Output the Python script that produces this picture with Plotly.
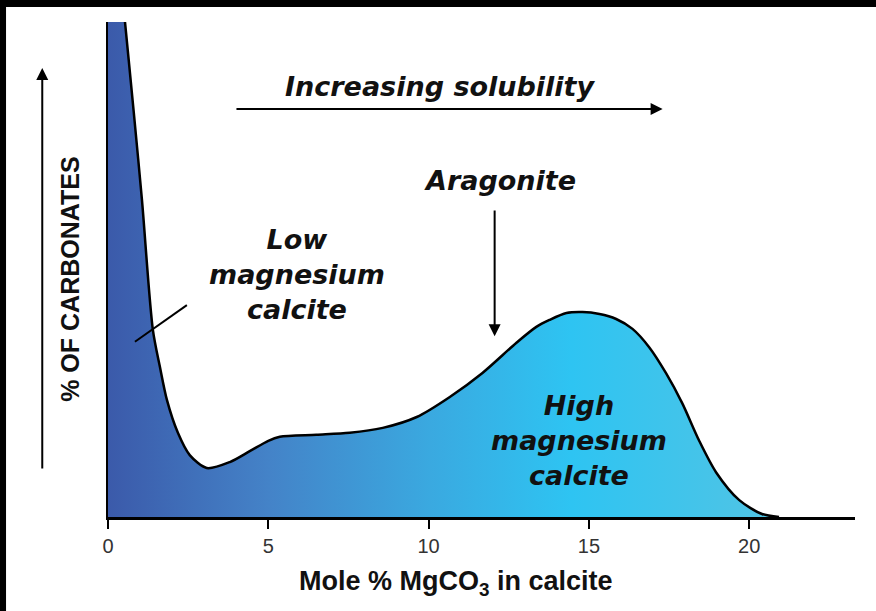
import plotly.graph_objects as go

# Curve (x: mole % MgCO3, y: relative % of carbonates, arbitrary 0-100 scale)
mg_mole_pct = [0.0, 0.53, 0.8, 1.06, 1.40, 1.62, 1.84, 2.18, 2.55, 3.08, 3.80, 4.42, 5.0, 5.36,
               6.5, 7.54, 8.57, 9.63, 10.65, 11.68, 12.74, 13.36, 13.77, 14.30, 14.8, 15.33,
               15.85, 16.36, 16.88, 17.41, 17.91, 18.44, 18.97, 19.69, 20.40, 20.93]
carbonate_pct = [135, 100, 82, 64, 37.8, 30.3, 23.6, 17.0, 12.5, 9.9, 11.1, 13.3, 15.4, 16.2,
                 16.6, 17.0, 18.0, 20.2, 24.2, 29.1, 35.2, 38.4, 39.8, 41.2, 41.4, 41.0,
                 40.0, 38.0, 34.3, 29.0, 23.0, 15.4, 9.0, 3.4, 0.6, 0.0]

x_ticks = [0, 5, 10, 15, 20]
x_tick_labels = ["0", "5", "10", "15", "20"]

x_title = "<b>Mole % MgCO<sub>3</sub> in calcite</b>"
y_title = "<b>% OF CARBONATES</b>"
low_label = "<b><i>Low<br>magnesium<br>calcite</i></b>"
high_label = "<b><i>High<br>magnesium<br>calcite</i></b>"
arag_label = "<b><i>Aragonite</i></b>"
sol_label = "<b><i>Increasing solubility</i></b>"

fig = go.Figure()
fig.add_trace(go.Scatter(
    x=mg_mole_pct, y=carbonate_pct, mode="lines",
    line=dict(color="black", width=2.5, shape="spline", smoothing=0.8),
    fill="tozeroy",
    fillgradient=dict(type="horizontal",
                      colorscale=[[0, "#3b5aaa"], [0.24, "#4483c8"], [0.48, "#3aa9e0"],
                                  [0.69, "#2ec4f2"], [1, "#52c4e4"]]),
    hoverinfo="skip", showlegend=False,
))

font_main = "Liberation Sans, Arial, sans-serif"
font_lbl = "DejaVu Sans, Liberation Sans, sans-serif"

fig.update_layout(
    width=876, height=611, autosize=False,
    margin=dict(l=108, r=21, t=22, b=94),
    paper_bgcolor="white", plot_bgcolor="white",
    font=dict(family=font_main, color="#111"),
    xaxis=dict(range=[0, 23.3], showgrid=False, zeroline=False,
               showline=True, linecolor="black", linewidth=3,
               ticks="outside", ticklen=9, tickwidth=2, tickcolor="black",
               tickvals=x_ticks, ticktext=x_tick_labels,
               tickfont=dict(size=20, color="#333", family=font_main)),
    yaxis=dict(range=[0, 100], showgrid=False, zeroline=False,
               showline=True, linecolor="black", linewidth=2,
               showticklabels=False, ticks=""),
)

ann = []
ann.append(dict(x=0.466, y=-0.133, xref="paper", yref="paper", text=x_title, showarrow=False,
                font=dict(size=27, color="#111", family=font_main),
                xanchor="center", yanchor="middle"))
ann.append(dict(x=-0.051, y=0.481, xref="paper", yref="paper", text=y_title, showarrow=False,
                textangle=-90, xanchor="center", yanchor="middle",
                font=dict(size=25, color="#111", family=font_main)))
ann.append(dict(x=5.9, y=49, text=low_label, showarrow=False,
                font=dict(size=27, color="#111", family=font_lbl)))
ann.append(dict(x=14.7, y=15.5, text=high_label, showarrow=False,
                font=dict(size=27, color="#111", family=font_lbl)))
ann.append(dict(x=12.24, y=68, text=arag_label, showarrow=False,
                font=dict(size=27, color="#111", family=font_lbl)))
ann.append(dict(x=10.35, y=87, text=sol_label, showarrow=False,
                font=dict(size=27, color="#111", family=font_lbl)))
fig.update_layout(annotations=ann)

# Arrows (data coords)
arrows = [
    dict(ax=3.96, ay=82.4, x=17.3, y=82.4),   # increasing solubility
    dict(ax=12.06, ay=62.2, x=12.06, y=36.5),  # aragonite
]
for a in arrows:
    fig.add_annotation(x=a["x"], y=a["y"], ax=a["ax"], ay=a["ay"], xref="x", yref="y",
                       axref="x", ayref="y", text="", showarrow=True, arrowhead=2,
                       arrowsize=1.2, arrowwidth=2, arrowcolor="black")
# y-axis arrow at far left (tail offset in pixels)
fig.add_annotation(x=-0.088, y=0.907, ax=0, ay=402, xref="paper", yref="paper",
                   axref="pixel", ayref="pixel", text="", showarrow=True, arrowhead=2,
                   arrowsize=1.2, arrowwidth=2, arrowcolor="black")

shapes = [
    dict(type="line", xref="x", yref="y", x0=0.84, y0=35.4, x1=2.46, y1=42.8,
         line=dict(color="black", width=2)),
    # black border strips of the original image
    dict(type="rect", xref="paper", yref="paper", x0=-0.2, x1=1.1, y0=1.0303, y1=1.06,
         fillcolor="black", line=dict(width=0), layer="above"),
    dict(type="rect", xref="paper", yref="paper", x0=-0.2, x1=-0.1365, y0=-0.3, y1=1.1,
         fillcolor="black", line=dict(width=0), layer="above"),
]
fig.update_layout(shapes=shapes)

fig.write_html("out.html", config={"displayModeBar": False},
               post_script="document.body.style.margin='0';")
